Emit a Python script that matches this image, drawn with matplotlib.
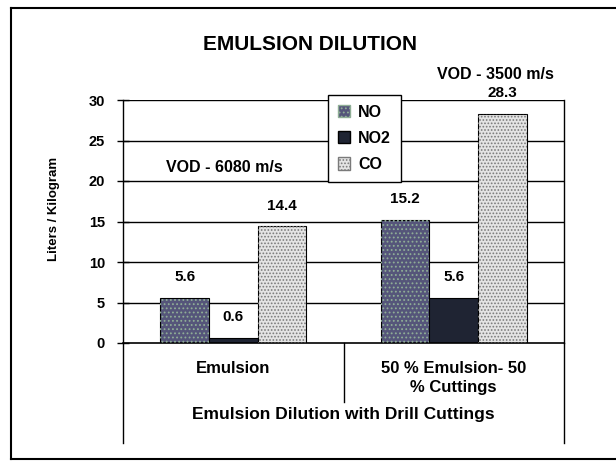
import matplotlib.pyplot as plt
from matplotlib.patches import Patch
from matplotlib.lines import Line2D
import numpy as np

# data
categories = ["Emulsion", "50 % Emulsion- 50\n% Cuttings"]
series_names = ["NO", "NO2", "CO"]
no_values = [5.6, 15.2]
no2_values = [0.6, 5.6]
co_values = [14.4, 28.3]
y_ticks = [0, 5, 10, 15, 20, 25, 30]

plt.rcParams['font.family'] = ['Liberation Sans', 'DejaVu Sans']
plt.rcParams['font.weight'] = 'bold'
plt.rcParams['hatch.linewidth'] = 0.8

fig = plt.figure(figsize=(6.16, 4.62), dpi=100, facecolor='white')
ax = fig.add_axes([123 / 616, 1 - 343 / 462, 441 / 616, 243 / 462])

# bar styles: face colour, hatch, hatch colour
styles = [
    ('#55557a', '....', '#8fae96'),
    ('#1f2433', None, None),
    ('#e4e4e4', '.....', '#7a7a7a'),
]
values = [no_values, no2_values, co_values]
offsets = [-0.22, 0.0, 0.22]
width = 0.22
x = np.arange(len(categories))

ax.set_ylim(0, 30)
ax.set_xlim(-0.5, 1.5)
for y in y_ticks[1:]:
    ax.axhline(y, color='black', linewidth=1.0, zorder=1)

for vals, off, (fc, hatch, hc) in zip(values, offsets, styles):
    ax.bar(x + off, vals, width, color=fc, edgecolor='black', linewidth=0.8, zorder=2)
    if hatch:
        ax.bar(x + off, vals, width, color='none', edgecolor=hc, hatch=hatch,
               linewidth=0, zorder=3)
    for xi, v in zip(x + off, vals):
        ax.annotate(f"{v}", (xi, v), xytext=(0, 15), textcoords='offset points',
                    ha='center', va='center', fontsize=11, fontweight='bold',
                    annotation_clip=False)

# axes look
ax.spines['top'].set_visible(False)
ax.spines['left'].set_linewidth(1.0)
ax.spines['right'].set_linewidth(1.0)
ax.spines['bottom'].set_linewidth(1.2)
ax.set_yticks(y_ticks)
ax.set_yticklabels([str(t) for t in y_ticks], fontsize=10.5, fontweight='bold')
ax.tick_params(axis='y', direction='inout', length=8, width=1, pad=9)
ax.set_xticks([])
ax.set_ylabel("Liters / Kilogram", fontsize=9.5, fontweight='bold')
ax.yaxis.set_label_coords(-0.142, 0.55)

# category table below the axis
for xs, depth in [(0.0, 0.41), (0.5, 0.243), (1.0, 0.41)]:
    ax.plot([xs, xs], [0, -depth], transform=ax.transAxes, color='black',
            linewidth=1.0, clip_on=False)
for xi, cat in zip(x, categories):
    ax.text(xi, -0.075, cat, transform=ax.get_xaxis_transform(), ha='center', va='top',
            fontsize=12, fontweight='bold', linespacing=1.3)
ax.text(0.5, -0.262, "Emulsion Dilution with Drill Cuttings", transform=ax.transAxes,
        ha='center', va='top', fontsize=12.5, fontweight='bold')

# annotations
ax.text(-0.04, 21.7, "VOD - 6080 m/s", ha='center', va='center', fontsize=11.5,
        fontweight='bold')
ax.text(1.19, 33.1, "VOD - 3500 m/s", ha='center', va='center', fontsize=11.5,
        fontweight='bold', clip_on=False)

fig.text(0.503, 1 - 45 / 462, "EMULSION DILUTION", ha='center', va='center',
         fontsize=15, fontweight='bold')

handles = [Patch(facecolor=fc, edgecolor=hc if hc else 'black', hatch=hatch)
           for fc, hatch, hc in styles]
leg = ax.legend(handles, series_names, loc='upper left',
                bbox_to_anchor=(328 / 616, 1 - 95 / 462), bbox_transform=fig.transFigure,
                borderaxespad=0, fancybox=False, framealpha=1, edgecolor='black',
                handlelength=0.8, handleheight=0.8, handletextpad=0.5,
                borderpad=0.6, labelspacing=0.7, prop={'weight': 'bold', 'size': 11.5})
leg.get_frame().set_linewidth(1.0)
leg.set_zorder(5)

# outer frame
for xs, ys in [([11 / 616, 11 / 616], [3 / 462, 1 - 8 / 462]),
               ([11 / 616, 1.0], [1 - 8 / 462, 1 - 8 / 462]),
               ([11 / 616, 1.0], [3 / 462, 3 / 462])]:
    fig.add_artist(Line2D(xs, ys, color='black', linewidth=1.5))

fig.savefig("out.png", dpi=100)
